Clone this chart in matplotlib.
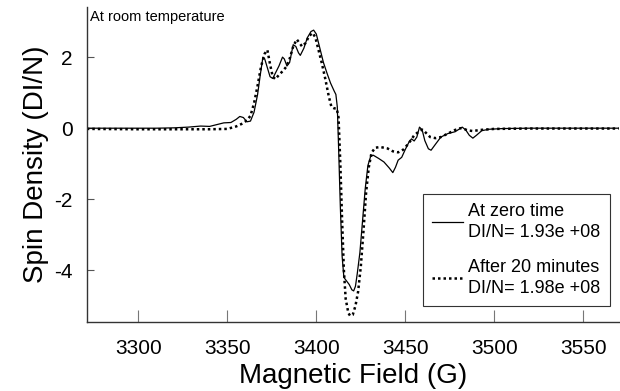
import matplotlib
matplotlib.use("Agg")
import matplotlib.pyplot as plt

plt.rcParams['font.family'] = ['Liberation Sans', 'DejaVu Sans']
plt.rcParams['axes.unicode_minus'] = False

# At zero time (solid)
field_zero = [3271, 3290, 3310, 3320, 3328, 3335, 3340, 3344, 3348, 3352, 3355, 3357, 3359,
              3361, 3363, 3365, 3367, 3368.5, 3370, 3371, 3372.5, 3374, 3375.5, 3377, 3379,
              3381, 3382, 3383.5, 3385, 3387, 3388.5, 3390, 3391, 3393, 3395, 3397, 3398.5,
              3400, 3402, 3404, 3406, 3408, 3410, 3411, 3411.8, 3412.5, 3413.5, 3414.5,
              3415.5, 3417, 3418.5, 3420, 3421, 3422, 3423, 3424.5, 3426, 3427.5, 3429,
              3430.5, 3432, 3435, 3438, 3441, 3443, 3444.5, 3446, 3448, 3450, 3452, 3453.5,
              3455, 3456.5, 3458, 3459.5, 3461, 3463, 3464.5, 3467, 3470, 3474, 3478, 3480.5,
              3482, 3484, 3486, 3488, 3490, 3493, 3497, 3505, 3520, 3570]
spin_zero = [0.00, 0.00, 0.00, 0.01, 0.03, 0.06, 0.05, 0.10, 0.15, 0.16, 0.25, 0.33, 0.30,
             0.18, 0.20, 0.45, 0.95, 1.50, 2.00, 1.95, 1.70, 1.45, 1.40, 1.55, 1.75,
             2.00, 1.95, 1.75, 1.85, 2.35, 2.30, 2.12, 2.05, 2.25, 2.55, 2.72, 2.76,
             2.65, 2.25, 1.85, 1.55, 1.27, 1.05, 0.95, 0.60, -0.50, -2.20, -3.60,
             -4.20, -4.30, -4.40, -4.55, -4.58, -4.45, -4.10, -3.50, -2.60, -1.70, -1.05,
             -0.80, -0.76, -0.85, -0.95, -1.12, -1.25, -1.10, -0.90, -0.82, -0.60, -0.40, -0.30,
             -0.36, -0.25, 0.03, -0.05, -0.35, -0.58, -0.62, -0.45, -0.25, -0.15, -0.10, -0.02,
             0.03, -0.05, -0.20, -0.28, -0.20, -0.07, -0.03, -0.01, 0.00, 0.00]

# After 20 minutes (dotted)
field_20 = [3271, 3300, 3320, 3340, 3350, 3355, 3358, 3361, 3363, 3365, 3367, 3369, 3371,
            3372.5, 3374, 3375.5, 3377, 3379, 3381, 3383, 3385, 3387, 3389, 3390.5, 3392,
            3394, 3396, 3398, 3399.5, 3401, 3403, 3405, 3407, 3408.5, 3410, 3411.5, 3412.5,
            3413.5, 3414.5, 3415.5, 3416.5, 3418, 3419, 3420.5, 3422, 3423.5, 3425, 3426.5,
            3428, 3429.5, 3431, 3433, 3436, 3440, 3443, 3446, 3449, 3451, 3453, 3455, 3457.5,
            3459.5, 3461, 3464, 3467, 3470, 3474, 3478, 3481, 3483, 3485, 3488, 3492, 3500,
            3520, 3570]
spin_20 = [-0.02, -0.03, -0.03, -0.03, -0.02, 0.05, 0.12, 0.22, 0.35, 0.70, 1.20, 1.75, 2.10,
           2.20, 1.80, 1.45, 1.38, 1.50, 1.60, 1.72, 1.95, 2.30, 2.50, 2.40, 2.30,
           2.40, 2.60, 2.68, 2.55, 2.25, 1.85, 1.40, 0.90, 0.60, 0.56, 0.55, 0.30,
           -1.00, -2.60, -4.00, -4.80, -5.20, -5.28, -5.25, -5.00, -4.60, -3.90, -2.90,
           -1.80, -1.10, -0.70, -0.55, -0.53, -0.57, -0.65, -0.68, -0.60, -0.48, -0.35, -0.20, -0.10,
           -0.04, -0.10, -0.25, -0.28, -0.25, -0.15, -0.05, 0.00, -0.02, -0.06, -0.08, -0.05, -0.02,
           -0.01, -0.01]

x_ticks = [3300, 3350, 3400, 3450, 3500, 3550]
y_ticks = [-4, -2, 0, 2]

fig = plt.figure(figsize=(6.2, 3.91), dpi=100)
ax = fig.add_axes([0.140, 0.176, 0.858, 0.806])

ax.plot(field_zero, spin_zero, color='black', lw=0.9, ls='-',
        label='At zero time\nDI/N= 1.93e +08')
ax.plot(field_20, spin_20, color='black', lw=1.8, ls=(0, (1, 1.2)),
        label='After 20 minutes\nDI/N= 1.98e +08')

ax.set_xlim(3271, 3570)
ax.set_ylim(-5.46, 3.41)
ax.set_xticks(x_ticks)
ax.set_yticks(y_ticks)

for side in ['top', 'right']:
    ax.spines[side].set_visible(False)
for side in ['left', 'bottom']:
    ax.spines[side].set_color('#333333')
    ax.spines[side].set_linewidth(1.0)

ax.tick_params(axis='x', direction='in', length=8.5, width=0.8, color='#777777',
               labelsize=15, pad=12)
ax.tick_params(axis='y', direction='in', length=5, width=0.8, color='#555555',
               labelsize=15, pad=10)

ax.set_xlabel('Magnetic Field (G)', fontsize=20, labelpad=4)
ax.set_ylabel('Spin Density (DI/N)', fontsize=20, labelpad=4)

ax.text(0.006, 0.99, 'At room temperature', transform=ax.transAxes,
        fontsize=10.5, ha='left', va='top')

leg = ax.legend(loc='lower right', bbox_to_anchor=(0.983, 0.051), fontsize=13,
                frameon=True, fancybox=False, edgecolor='#333333', framealpha=1,
                handlelength=1.7, handletextpad=0.3, labelspacing=1.0,
                borderpad=0.5, borderaxespad=0)
leg.get_frame().set_linewidth(0.8)
for t in leg.get_texts():
    t.set_linespacing(1.3)

fig.savefig('out.png', dpi=100)
